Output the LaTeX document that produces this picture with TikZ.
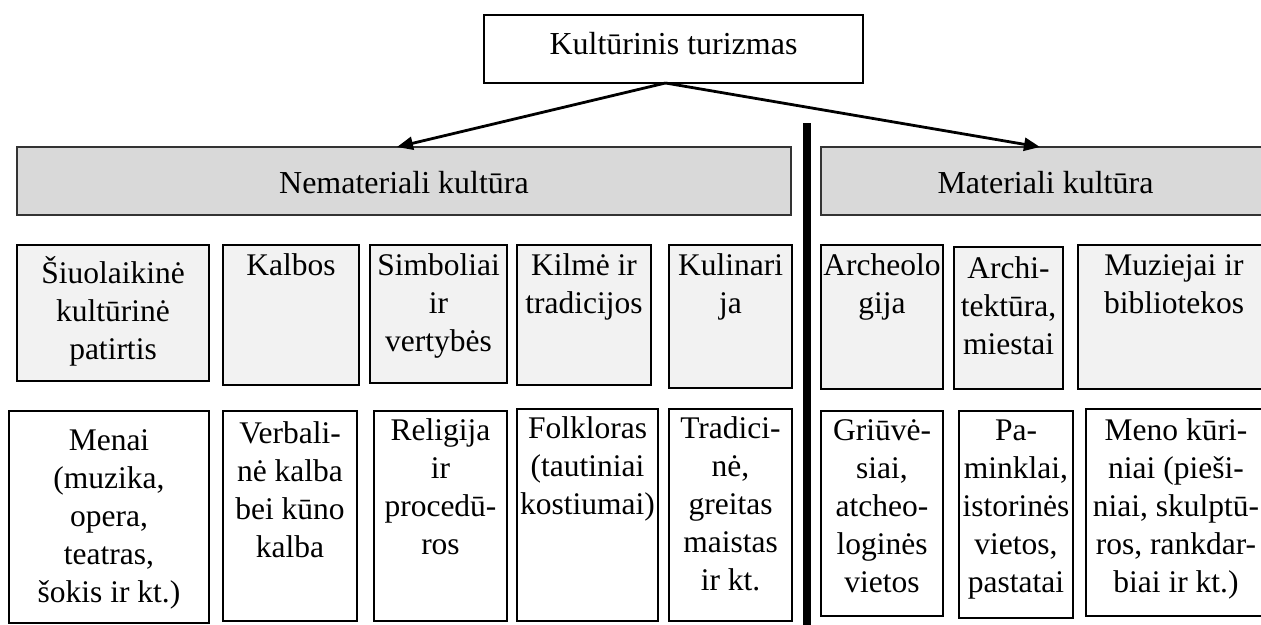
\documentclass[tikz,border=0pt]{standalone}
\usepackage{fontspec}
\setmainfont{Liberation Serif}
\usetikzlibrary{arrows.meta}
\definecolor{hdrgray}{HTML}{D9D9D9}
\definecolor{cellgray}{HTML}{F2F2F2}
\definecolor{hdrborder}{HTML}{333333}
\newcommand\cellpar[4]{\parbox[c][#2pt][t]{#1pt}{\hyphenpenalty=10000\exhyphenpenalty=10000\hfuzz=20pt\centering\rule{0pt}{#3pt}#4\par}}
\tikzset{
  cell/.style={draw=black, line width=1.2pt, inner sep=0pt, outer sep=0pt, anchor=north west,
               font=\fontsize{31.5}{38}\selectfont},
  lvltwo/.style={cell, fill=cellgray},
  lvlthree/.style={cell, fill=white},
  topbox/.style={cell, fill=white, font=\fontsize{32}{38}\selectfont},
  head/.style={draw=hdrborder, line width=1.6pt, fill=hdrgray, inner sep=0pt, outer sep=0pt,
               anchor=north west, font=\fontsize{32}{38}\selectfont},
  arr/.style={-{Triangle[length=16pt,width=13pt]}, line width=2.8pt},
  divider/.style={line width=8pt}
}
\begin{document}
\begin{tikzpicture}[x=1pt,y=-1pt]
\useasboundingbox (0,0) rectangle (1261,624);
\clip (0,0) rectangle (1261,624);

% top
\node[topbox] (top) at (484,15) {\cellpar{379}{68}{39}{Kultūrinis turizmas}};

% headers
\node[head] (nem) at (17,147) {\cellpar{774}{68}{46}{Nemateriali kultūra}};
\node[head] (mat) at (821,147) {\cellpar{449}{68}{46}{Materiali kultūra}};

% arrows
\coordinate (apex) at ([xshift=-8pt]top.south);
\draw[arr] (apex) -- ([xshift=-7pt]nem.north);
\draw[arr] (apex) -- ([xshift=-5.5pt]mat.north);

% divider
\draw[divider] (807,123) -- (807,630);

% second row
\node[lvltwo] (sl)   at (17,245)   {\cellpar{192}{136}{38}{Šiuolaikinė\\kultūrinė\\patirtis}};
\node[lvltwo] (kal)  at (223,245)  {\cellpar{136}{140}{30}{Kalbos}};
\node[lvltwo] (sim)  at (370,245)  {\cellpar{137}{138}{30}{Simboliai\\ir\\vertybės}};
\node[lvltwo] (kil)  at (517,245)  {\cellpar{134}{140}{30}{Kilmė ir\\tradicijos}};
\node[lvltwo] (kul)  at (669,245)  {\cellpar{123}{143}{30}{Kulinari\\ja}};
\node[lvltwo] (arc)  at (821,245)  {\cellpar{122}{144}{30}{Archeolo\\gija}};
\node[lvltwo] (arch) at (954,247)  {\cellpar{109}{142}{31}{Archi-\\tektūra,\\miestai}};
\node[lvltwo] (muz)  at (1078,245) {\cellpar{192}{144}{30}{Muziejai ir\\bibliotekos}};

% third row
\node[lvlthree] (men)  at (9,411)    {\cellpar{200}{212}{39}{Menai\\(muzika,\\opera,\\teatras,\\šokis ir kt.)}};
\node[lvlthree] (ver)  at (223,411)  {\cellpar{134}{210}{32}{Verbali-\\nė kalba\\bei kūno\\kalba}};
\node[lvlthree] (rel)  at (374,411)  {\cellpar{133}{210}{29}{Religija\\ir\\procedū-\\ros}};
\node[lvlthree] (fol)  at (517,409)  {\cellpar{141}{212}{29}{Folkloras\\(tautiniai\\kostiumai)}};
\node[lvlthree] (tra)  at (669,409)  {\cellpar{123}{212}{29}{Tradici-\\nė,\\greitas\\maistas\\ir kt.}};
\node[lvlthree] (gri)  at (821,411)  {\cellpar{122}{205}{29}{Griūvė-\\siai,\\atcheo-\\loginės\\vietos}};
\node[lvlthree] (pam)  at (959,411)  {\cellpar{114}{207}{29}{Pa-\\minklai,\\istorinės\\vietos,\\pastatai}};
\node[lvlthree] (kur)  at (1086,409) {\cellpar{180}{207}{31}{Meno kūri-\\niai (pieši-\\niai, skulptū-\\ros, rankdar-\\biai ir kt.)}};
\end{tikzpicture}
\end{document}
